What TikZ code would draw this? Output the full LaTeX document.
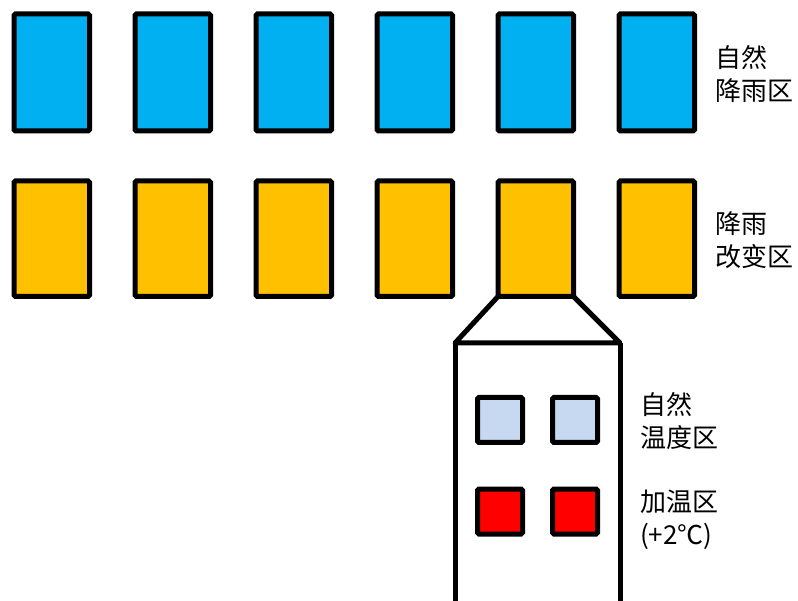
\documentclass[tikz,border=0pt]{standalone}
\usepackage{fontspec}
\newfontfamily\cjk{Noto Sans CJK SC}
\definecolor{rainblue}{HTML}{00B0F0}
\definecolor{rainyellow}{HTML}{FFC000}
\definecolor{paleblue}{HTML}{C6D9F1}
\definecolor{warmred}{HTML}{FF0000}
\tikzset{
  plotbox/.style={draw=black, line width=5pt, rounded corners=1.5pt, inner sep=0pt, outer sep=0pt},
  bluebox/.style={plotbox, fill=rainblue, minimum width=75.5pt, minimum height=117pt},
  yellowbox/.style={plotbox, fill=rainyellow, minimum width=75.5pt, minimum height=115.5pt},
  subbox/.style={plotbox, minimum width=45pt, minimum height=45pt},
  label/.style={anchor=west, align=left, inner sep=0pt, font=\cjk\fontsize{26}{33}\selectfont},
  outline/.style={draw=black, line width=5pt, line join=round}
}
\begin{document}
\begin{tikzpicture}[x=1pt, y=-1pt]
\useasboundingbox (0,0) rectangle (798,601);
\clip (0,0) rectangle (798,601);
\foreach \i in {1,...,6} {
  \node[bluebox] (b\i) at ({51.75+121*(\i-1)},72.5) {};
  \node[yellowbox] (y\i) at ({51.75+121*(\i-1)},238.75) {};
}
\coordinate (tl) at (455,343);
\coordinate (tr) at (620,343);
\coordinate (bl) at (455,620);
\coordinate (br) at (620,620);
\draw[outline] (y5.south west) -- (tl) -- (tr) -- (y5.south east);
\draw[outline] (bl) -- (tl) (tr) -- (br);
\node[subbox, fill=paleblue] (n1) at (500,420) {};
\node[subbox, fill=paleblue] (n2) at (575,420) {};
\node[subbox, fill=warmred] (w1) at (500,511.5) {};
\node[subbox, fill=warmred] (w2) at (575,511.5) {};
\node[label] (l1) at (715,74) {自然\\降雨区};
\node[label] (l2) at (715,240) {降雨\\改变区};
\node[label] (l3) at (640,421) {自然\\温度区};
\node[label] (l4) at (640,520) {加温区\\(+2℃)};
\end{tikzpicture}
\end{document}
